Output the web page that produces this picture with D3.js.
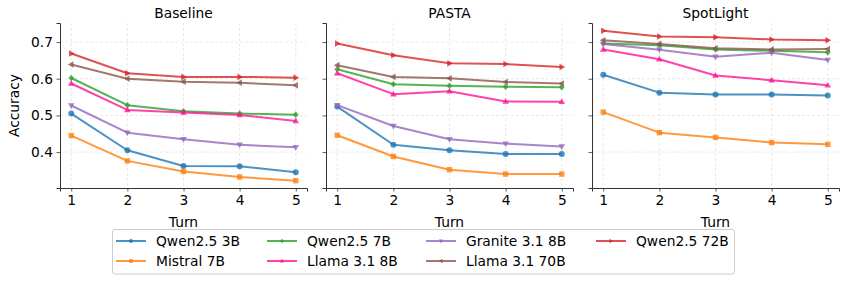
<!DOCTYPE html>
<html><head><meta charset="utf-8">
<script src="https://cdn.jsdelivr.net/npm/d3@7"></script>
<style>
body{margin:0;background:#fff;}
text{font-family:"DejaVu Sans",sans-serif;fill:#000;}
</style></head>
<body><svg id="c" width="847" height="282"></svg>
<script>
const turns = [1, 2, 3, 4, 5];
const panels = ["Baseline", "PASTA", "SpotLight"];
const models = ["Qwen2.5 3B", "Mistral 7B", "Qwen2.5 7B", "Llama 3.1 8B", "Granite 3.1 8B", "Llama 3.1 70B", "Qwen2.5 72B"];
const colors = ["#1f77b4", "#ff7f0e", "#2ca02c", "#ff1493", "#9467bd", "#8c564b", "#d62728"];
const markers = ["circle", "square", "diamond", "up", "down", "left", "right"];
const yTicks = [0.4, 0.5, 0.6, 0.7];

// values[panel][model] over turns 1..5
const baseline = [
  [0.505, 0.405, 0.362, 0.361, 0.345],
  [0.445, 0.376, 0.347, 0.332, 0.322],
  [0.602, 0.528, 0.511, 0.505, 0.502],
  [0.587, 0.515, 0.508, 0.501, 0.485],
  [0.527, 0.453, 0.435, 0.420, 0.413],
  [0.639, 0.600, 0.592, 0.589, 0.582],
  [0.669, 0.615, 0.605, 0.605, 0.603]
];
const pasta = [
  [0.524, 0.420, 0.405, 0.395, 0.395],
  [0.446, 0.388, 0.352, 0.340, 0.340],
  [0.626, 0.585, 0.581, 0.578, 0.577],
  [0.615, 0.558, 0.566, 0.538, 0.537],
  [0.528, 0.471, 0.435, 0.423, 0.415],
  [0.637, 0.605, 0.601, 0.591, 0.587],
  [0.696, 0.664, 0.642, 0.640, 0.632]
];
const spotlight = [
  [0.611, 0.562, 0.557, 0.557, 0.554],
  [0.509, 0.453, 0.440, 0.426, 0.421],
  [0.696, 0.691, 0.680, 0.676, 0.672],
  [0.680, 0.653, 0.609, 0.596, 0.582],
  [0.695, 0.679, 0.660, 0.671, 0.651],
  [0.705, 0.695, 0.683, 0.680, 0.681],
  [0.731, 0.715, 0.713, 0.707, 0.705]
];
const allData = [baseline, pasta, spotlight];

const svg = d3.select("#c");
const FS = 13.8;
const lefts = [60, 326, 592], pw = 247, pTop = 23, pBottom = 188;
const y = d3.scaleLinear().domain([0.302, 0.752]).range([pBottom, pTop]);

function markerPath(type, cx, cy, k) {
  const s = 3 * k;
  switch (type) {
    case "square": return `M${cx-s*0.9},${cy-s*0.9}h${1.8*s}v${1.8*s}h${-1.8*s}Z`;
    case "diamond": return `M${cx},${cy-s*1.1}L${cx+s*0.95},${cy}L${cx},${cy+s*1.1}L${cx-s*0.95},${cy}Z`;
    case "up": return `M${cx},${cy-s*1.15}L${cx+s*1.1},${cy+s*0.75}L${cx-s*1.1},${cy+s*0.75}Z`;
    case "down": return `M${cx},${cy+s*1.15}L${cx+s*1.1},${cy-s*0.75}L${cx-s*1.1},${cy-s*0.75}Z`;
    case "left": return `M${cx-s*1.15},${cy}L${cx+s*0.75},${cy-s*1.1}L${cx+s*0.75},${cy+s*1.1}Z`;
    case "right": return `M${cx+s*1.15},${cy}L${cx-s*0.75},${cy-s*1.1}L${cx-s*0.75},${cy+s*1.1}Z`;
    default: return `M${cx+s},${cy}A${s},${s} 0 1,1 ${cx-s},${cy}A${s},${s} 0 1,1 ${cx+s},${cy}Z`;
  }
}

panels.forEach((name, p) => {
  const L = lefts[p];
  const x = d3.scaleLinear().domain([0.8, 5.2]).range([L, L + pw]);
  const g = svg.append("g");
  // grid
  g.selectAll(".gx").data(turns).enter().append("line")
    .attr("x1", d => x(d)).attr("x2", d => x(d)).attr("y1", pTop).attr("y2", pBottom)
    .attr("stroke", "#b0b0b0").attr("stroke-opacity", 0.35).attr("stroke-width", 0.8).attr("stroke-dasharray", "3,2");
  g.selectAll(".gy").data(yTicks).enter().append("line")
    .attr("x1", L).attr("x2", L + pw).attr("y1", d => y(d)).attr("y2", d => y(d))
    .attr("stroke", "#b0b0b0").attr("stroke-opacity", 0.35).attr("stroke-width", 0.8).attr("stroke-dasharray", "3,2");

  // axes
  const xa = g.append("g").attr("transform", `translate(0,${pBottom})`)
    .call(d3.axisBottom(x).tickValues(turns).tickFormat(d3.format("d")).tickSizeOuter(0).tickSize(3.5).tickPadding(3.5));
  const ya = g.append("g").attr("transform", `translate(${L},0)`)
    .call(d3.axisLeft(y).tickValues(yTicks).tickFormat(p === 0 ? d3.format(".1f") : () => "").tickSizeOuter(0).tickSize(3.5).tickPadding(3.5));
  [xa, ya].forEach(a => {
    a.select(".domain").attr("stroke", "#333").attr("stroke-width", 1);
    a.selectAll(".tick line").attr("stroke", "#333").attr("stroke-width", 0.8);
    a.selectAll("text").attr("font-size", FS).attr("font-family", "DejaVu Sans").attr("fill", "#000");
  });
  xa.selectAll("text").attr("dy", "0.71em");

  // lines
  const line = d3.line().x((d, i) => x(turns[i])).y(d => y(d));
  allData[p].forEach((vals, m) => {
    g.append("path").attr("d", line(vals)).attr("fill", "none")
      .attr("stroke", colors[m]).attr("stroke-width", 2).attr("stroke-opacity", 0.8)
      .attr("stroke-linejoin", "round");
    vals.forEach((v, i) => {
      g.append("path").attr("d", markerPath(markers[m], x(turns[i]), y(v), 1))
        .attr("fill", colors[m]).attr("fill-opacity", 0.8);
    });
  });

  // title and x label
  svg.append("text").attr("x", L + pw / 2).attr("y", 18).attr("text-anchor", "middle")
    .attr("font-size", FS).text(name);
  svg.append("text").attr("x", L + pw / 2).attr("y", 227).attr("text-anchor", "middle")
    .attr("font-size", FS).text("Turn");
});

svg.append("text").attr("transform", `translate(19,105.5) rotate(-90)`).attr("text-anchor", "middle")
  .attr("font-size", FS).text("Accuracy");

// legend
const lg = svg.append("g");
lg.append("rect").attr("x", 112.5).attr("y", 229.5).attr("width", 622).attr("height", 44.5)
  .attr("rx", 2.5).attr("fill", "#fff").attr("fill-opacity", 0.8).attr("stroke", "#cccccc").attr("stroke-width", 1);
const colX = [116, 267, 426, 596];
const rowY = [241, 261];
models.forEach((m, i) => {
  const c = Math.floor(i / 2), r = i % 2;
  const hx = colX[c], hy = rowY[r];
  lg.append("line").attr("x1", hx).attr("x2", hx + 30).attr("y1", hy).attr("y2", hy)
    .attr("stroke", colors[i]).attr("stroke-width", 2).attr("stroke-opacity", 0.8);
  lg.append("path").attr("d", markerPath(markers[i], hx + 15, hy, 0.7))
    .attr("fill", colors[i]).attr("fill-opacity", 0.8);
  lg.append("text").attr("x", hx + 40).attr("y", hy + 5).attr("font-size", FS).text(m);
});
</script></body></html>
